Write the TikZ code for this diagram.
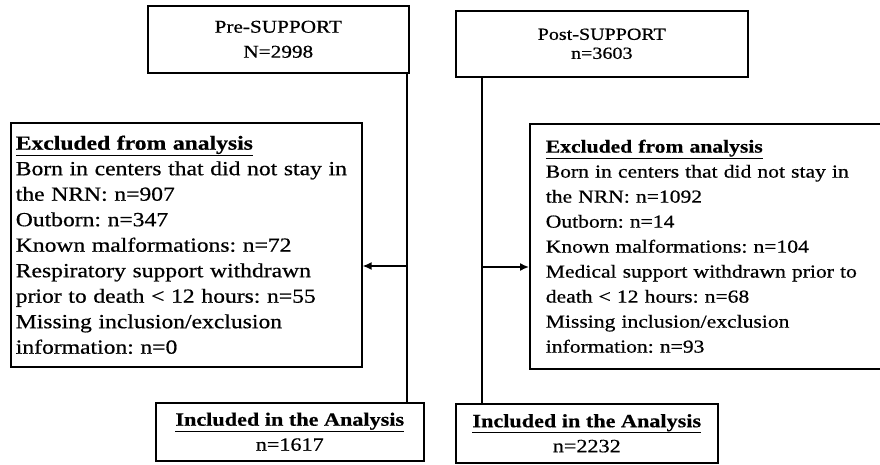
\documentclass[tikz,border=0pt]{standalone}
\usepackage{fontspec}
\setmainfont{Liberation Serif}[FakeStretch=1.18, FakeBold=0.6]
\usepackage{tikz}
\usetikzlibrary{positioning,arrows.meta}
\frenchspacing

\begin{document}
\begin{tikzpicture}[x=1pt,y=-1pt,
		font=\fontsize{20}{25.5}\selectfont,
		box/.style={draw, line width=1.6pt, anchor=north west, inner sep=0pt, align=center},
		exbox/.style={box, align=left, inner ysep=0pt},
		link/.style={line width=1.6pt},
		arr/.style={link, -{Latex[length=9pt,width=8pt]}}]
	\useasboundingbox (0,0) rectangle (880,465);
	% study periods
	\node[box, minimum width=261, minimum height=67, font=\fontsize{18}{25}\selectfont] (pre) at (147,5) {Pre-SUPPORT\\N=2998};
	\node[box, minimum width=292, minimum height=66, font=\fontsize{17}{19}\selectfont] (post) at (455,10) {Post-SUPPORT\\n=3603};
	% exclusions
	\node[exbox, minimum height=244, text width=341, inner xsep=5pt] (exA) at (10,122) {\textbf{\underline{Excluded from analysis}}\\
		Born in centers that did not stay in\\
		the NRN: n=907\\
		Outborn: n=347\\
		Known malformations: n=72\\
		Respiratory support withdrawn\\
		prior to death < 12 hours: n=55\\
		Missing inclusion/exclusion\\
		information: n=0};
	\node[exbox, minimum height=245, text width=340, inner xsep=16pt, font=\fontsize{18.3}{25}\selectfont] (exB) at (529,123) {\textbf{\underline{Excluded from analysis}}\\
		Born in centers that did not stay in\\
		the NRN: n=1092\\
		Outborn: n=14\\
		Known malformations: n=104\\
		Medical support withdrawn prior to\\
		death < 12 hours: n=68\\
		Missing inclusion/exclusion\\
		information: n=93};
	% analysed
	\node[box, minimum width=268, minimum height=58, font=\fontsize{18.8}{25}\selectfont] (inA) at (155,402) {\textbf{\underline{Included in the Analysis}}\\n=1617};
	\node[box, minimum width=262, minimum height=59, font=\fontsize{18.8}{25}\selectfont] (inB) at (455,403) {\textbf{\underline{Included in the Analysis}}\\n=2232};
	% flow
	\coordinate (lsplit) at (407,266);
	\coordinate (rsplit) at (482,267);
	\draw[link] (pre.south -| lsplit) -- (inA.north -| lsplit);
	\draw[arr] (lsplit) -- (exA.east |- lsplit);
	\draw[link] (post.south -| rsplit) -- (inB.north -| rsplit);
	\draw[arr] (rsplit) -- (exB.west |- rsplit);
\end{tikzpicture}
\end{document}
